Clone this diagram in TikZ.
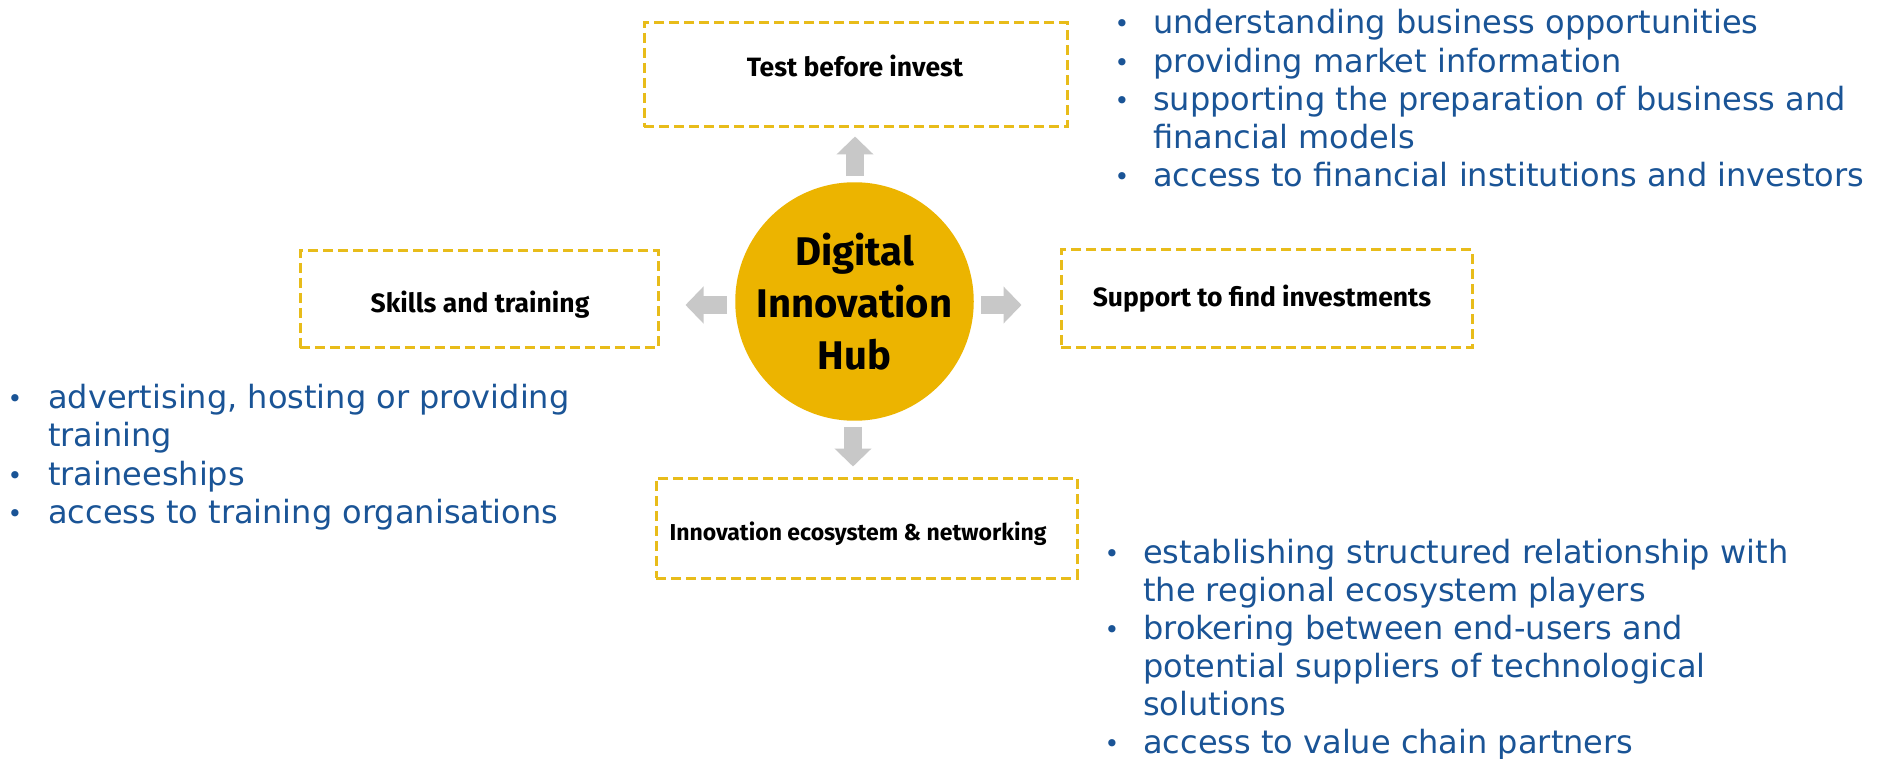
\documentclass[tikz,border=0pt]{standalone}
\usepackage{fontspec}
\setmainfont{DejaVu Sans}
\newfontfamily\labfont{Fira Sans}
\usetikzlibrary{arrows.meta,calc}
\definecolor{bluetxt}{RGB}{26,84,150}
\definecolor{hubgold}{RGB}{236,180,0}
\definecolor{dashy}{RGB}{232,188,26}
\definecolor{arrgrey}{RGB}{200,200,200}
\begin{document}
\begin{tikzpicture}[x=1pt,y=-1pt,
  dbox/.style={draw=dashy, line width=3pt, dash pattern=on 10pt off 5pt, rectangle, inner sep=0pt},
  lbl/.style={font=\labfont\bfseries\fontsize{26.5}{30}\selectfont, text=black, anchor=base, inner sep=0pt},
  lblsmall/.style={lbl, font=\labfont\bfseries\fontsize{23}{27}\selectfont},
  itm/.style={font=\fontsize{32}{38.5}\selectfont, text=bluetxt, anchor=base west, inner sep=0pt},
  bul/.style={font=\fontsize{25}{25}\selectfont, text=bluetxt, anchor=base, inner sep=0pt},
  blk/.style={draw=arrgrey, line width=18pt, -{Triangle[length=18pt,width=36pt]}}]
\useasboundingbox (0,0) rectangle (1883,759);
\fill[white] (0,0) rectangle (1883,759);

% boxes
\node[dbox, minimum width=423pt, minimum height=104pt] (test) at (855.5,75) {};
\node[dbox, minimum width=358pt, minimum height=97pt] (skills) at (479,299.5) {};
\node[dbox, minimum width=411pt, minimum height=98pt] (support) at (1266.5,299) {};
\node[dbox, minimum width=421pt, minimum height=100pt] (inno) at (866.5,528) {};

\node[lbl] (testl) at (855,77) {Test before invest};
\node[lbl] (skillsl) at (480,313) {Skills and training};
\node[lbl] (supportl) at (1262,307) {Support to find investments};
\node[lblsmall] (innol) at (858,540) {Innovation ecosystem \& networking};

% hub
\node[circle, fill=hubgold, minimum size=214pt, inner sep=0pt, align=center,
  font=\labfont\bfseries\fontsize{40}{52}\selectfont] (hub) at (854.5,301.5) {Digital\\Innovation\\Hub};

% block arrows
\draw[blk] ($(hub.north)+(0.5,-6)$) -- ($(test.south)+(-0.5,8)$);
\draw[blk] ($(hub.south)+(-1.5,6)$) -- ($(hub.south |- inno.north)+(-1.5,-10)$);
\draw[blk] ($(hub.west)+(-8,3.5)$) -- ($(skills.east |- hub.west)+(26,3.5)$);
\draw[blk] ($(hub.east)+(7.5,3.5)$) -- ($(support.west |- hub.east)+(-38,3.5)$);

% top right list
\node[bul] (b1) at (1122,33) {•};
\node[itm] (t1) at (1153,34) {understanding business opportunities};
\node[bul] (b2) at (1122,71.5) {•};
\node[itm] (t2) at (1153,72.5) {providing market information};
\node[bul] (b3) at (1122,110) {•};
\node[itm] (t3) at (1153,111) {supporting the preparation of business and};
\node[itm] (t3b) at (1153,149) {financial models};
\node[bul] (b4) at (1122,186) {•};
\node[itm] (t4) at (1153,187) {access to financial institutions and investors};

% left list
\node[bul] (l1) at (15,407) {•};
\node[itm] (s1) at (48,408) {advertising, hosting or providing};
\node[itm] (s1b) at (48,446) {training};
\node[bul] (l2) at (15,484) {•};
\node[itm] (s2) at (48,485) {traineeships};
\node[bul] (l3) at (15,522) {•};
\node[itm] (s3) at (48,523) {access to training organisations};

% bottom right list
\node[bul] (r1) at (1112,562) {•};
\node[itm] (e1) at (1143,563) {establishing structured relationship with};
\node[itm] (e1b) at (1143,601) {the regional ecosystem players};
\node[bul] (r2) at (1112,638) {•};
\node[itm] (e2) at (1143,639) {brokering between end-users and};
\node[itm] (e2b) at (1143,677) {potential suppliers of technological};
\node[itm] (e2c) at (1143,715) {solutions};
\node[bul] (r3) at (1112,752) {•};
\node[itm] (e3) at (1143,753) {access to value chain partners};
\end{tikzpicture}
\end{document}
